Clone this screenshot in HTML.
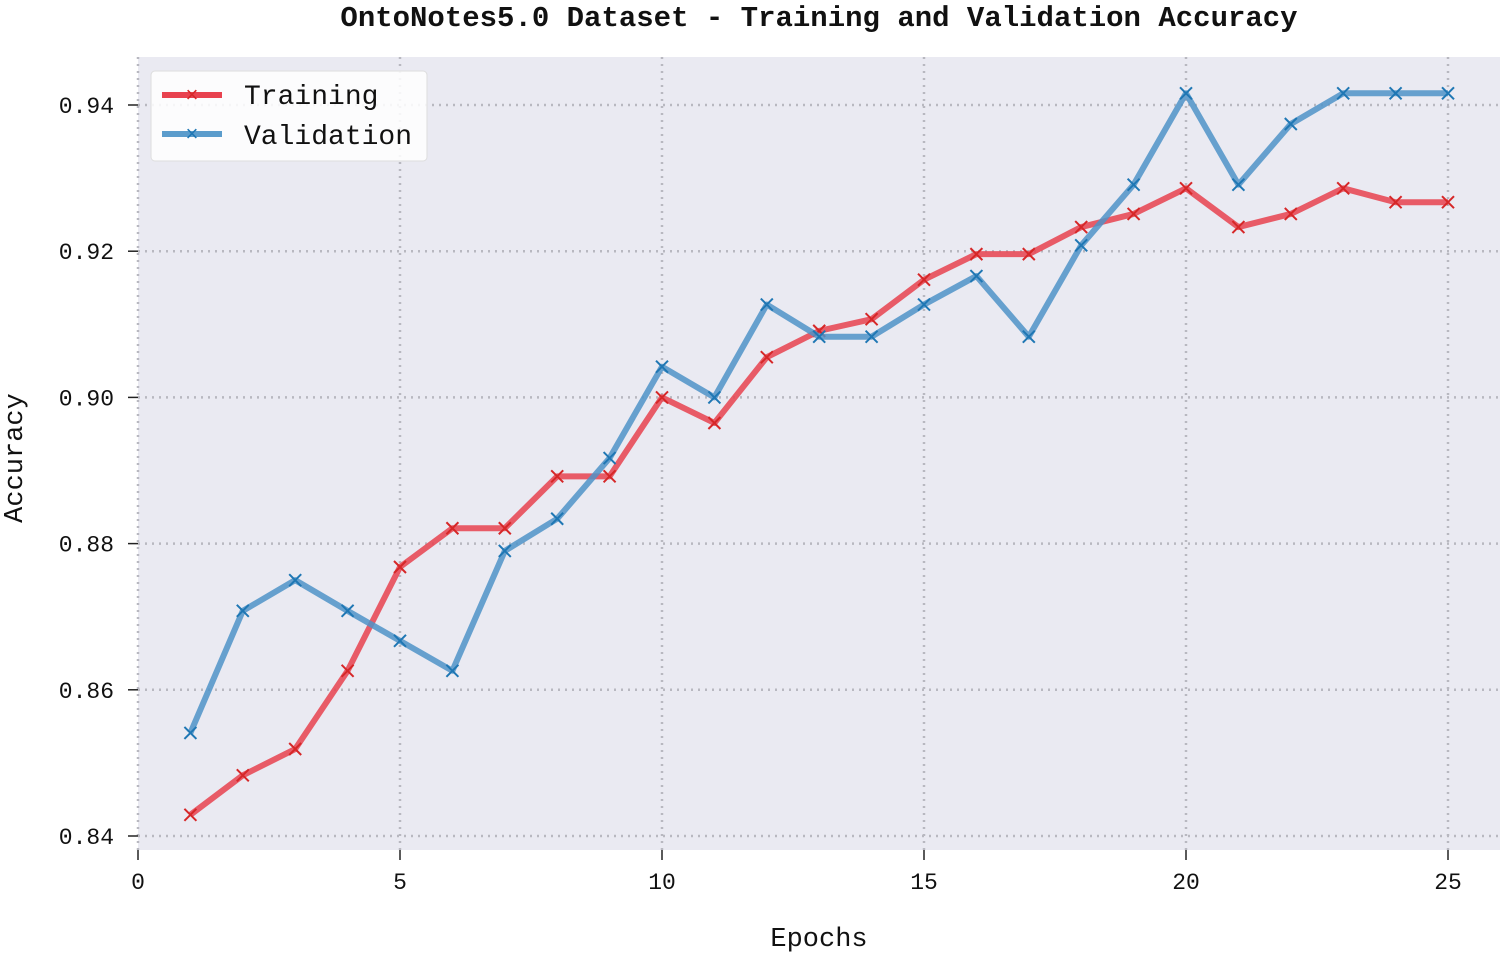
<!DOCTYPE html>
<html><head><meta charset="utf-8"><style>
html,body{margin:0;padding:0;background:#fff;}
svg text{font-family:"Liberation Mono","DejaVu Sans Mono",monospace;fill:#111;}
</style></head><body>
<svg id="chart" width="1505" height="955" xmlns="http://www.w3.org/2000/svg">
<text x="819" y="26" text-anchor="middle" font-size="29" font-weight="bold">OntoNotes5.0 Dataset - Training and Validation Accuracy</text>
<rect x="138" y="57" width="1362" height="793" fill="#eaeaf2"/>
<g id="grid"></g><g id="axes"></g><g id="series"></g>
<text x="819" y="946" text-anchor="middle" font-size="27">Epochs</text>
<text transform="translate(22,458) rotate(-90)" text-anchor="middle" font-size="27">Accuracy</text>
<g>
<rect x="151" y="71" width="276" height="90" rx="4" fill="#fff" fill-opacity="0.85" stroke="#ddd"/>
<line x1="162" y1="95" x2="222" y2="95" stroke="#e8424f" stroke-width="6"/>
<text x="192" y="102" text-anchor="middle" font-size="22" style="fill:#d62728">×</text>
<text x="244" y="104" font-size="28">Training</text>
<line x1="162" y1="134" x2="222" y2="134" stroke="#5b9ccc" stroke-width="6"/>
<text x="192" y="141" text-anchor="middle" font-size="22" style="fill:#1f77b4">×</text>
<text x="244" y="144" font-size="28">Validation</text>
</g>
</svg>
<script>
const epochs=[1,2,3,4,5,6,7,8,9,10,11,12,13,14,15,16,17,18,19,20,21,22,23,24,25];
const training=[0.8429,0.8483,0.8519,0.8626,0.8768,0.8821,0.8821,0.8892,0.8892,0.9000,0.8965,0.9055,0.9091,0.9107,0.9161,0.9196,0.9196,0.9233,0.9251,0.9286,0.9233,0.9251,0.9286,0.9267,0.9267];
const validation=[0.8541,0.8708,0.8750,0.8708,0.8667,0.8626,0.8790,0.8834,0.8917,0.9042,0.9000,0.9127,0.9083,0.9083,0.9127,0.9166,0.9083,0.9208,0.9291,0.9416,0.9291,0.9374,0.9416,0.9416,0.9416];
const xTicks=[0,5,10,15,20,25];
const yTicks=[0.84,0.86,0.88,0.90,0.92,0.94];
const yTickLabels=["0.84","0.86","0.88","0.90","0.92","0.94"];
const NS="http://www.w3.org/2000/svg";
function xs(v){return 138+v*52.4;}
function ys(v){return 836-(v-0.84)*7310;}
function mk(tag,attrs,parent){const e=document.createElementNS(NS,tag);for(const k in attrs)e.setAttribute(k,attrs[k]);parent.appendChild(e);return e;}
const grid=document.getElementById('grid'),axes=document.getElementById('axes'),ser=document.getElementById('series');
xTicks.forEach(t=>{
 const l=mk('line',{x1:xs(t),x2:xs(t),y1:57,y2:850,stroke:'#b8b8c0','stroke-width':2.5,'stroke-dasharray':'2,5'},grid);
 
 
 const tk=mk('line',{x1:xs(t),x2:xs(t),y1:850,y2:860,stroke:'#222','stroke-width':1.5},axes);
 
 
 const tx=mk('text',{x:xs(t),y:889,'text-anchor':'middle','font-size':23},axes);
 tx.textContent=String(t);
 
 
});
yTicks.forEach((t,i)=>{
 const l=mk('line',{x1:138,x2:1500,y1:ys(t),y2:ys(t),stroke:'#b8b8c0','stroke-width':2.5,'stroke-dasharray':'2,5'},grid);
 
 
 const tk=mk('line',{x1:128,x2:138,y1:ys(t),y2:ys(t),stroke:'#222','stroke-width':1.5},axes);
 
 
 const tx=mk('text',{x:114,y:ys(t)+8,'text-anchor':'end','font-size':23},axes);
 tx.textContent=yTickLabels[i];
 
 
});
function drawSeries(vals,line,mark,name){
 const pts=epochs.map((e,i)=>xs(e)+','+ys(vals[i])).join(' ');
 const pl=mk('polyline',{points:pts,fill:'none',stroke:line,'stroke-width':6,'stroke-linejoin':'round','stroke-opacity':0.85},ser);
 
 
 epochs.forEach((e,i)=>{
  const x=xs(e),y=ys(vals[i]),s=6;
  const p=mk('path',{d:`M${x-s},${y-s}L${x+s},${y+s}M${x-s},${y+s}L${x+s},${y-s}`,stroke:mark,'stroke-width':2},ser);
  
  
 });
}
drawSeries(training,'#e8424f','#d62728','training');
drawSeries(validation,'#4f93c8','#1f77b4','validation');
</script>
</body></html>
